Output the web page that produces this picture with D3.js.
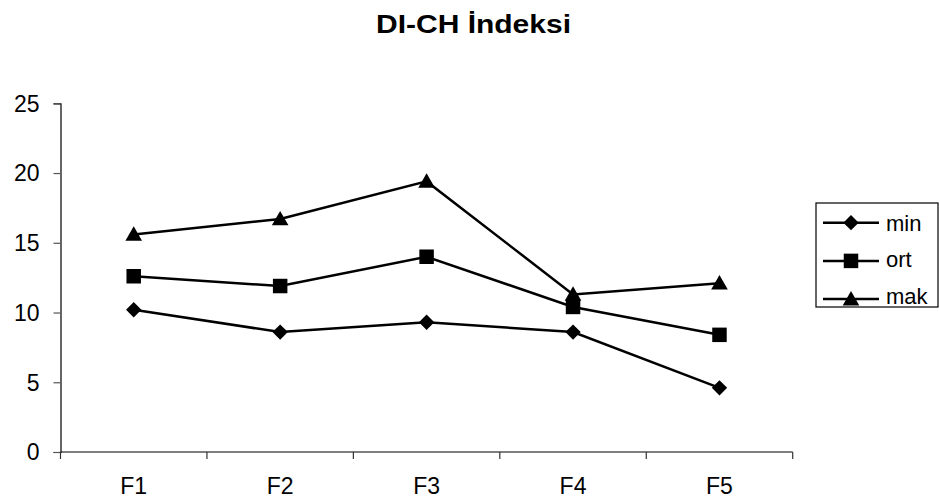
<!DOCTYPE html>
<html>
<head>
<meta charset="utf-8">
<script src="https://cdn.jsdelivr.net/npm/d3@7"></script>
<style>
body { margin: 0; background: #fff; }
text { font-family: "Liberation Sans", Arial, sans-serif; fill: #000; }
</style>
</head>
<body>
<div id="chart"></div>
<script>
// data
var categories = ["F1", "F2", "F3", "F4", "F5"];
var seriesNames = ["min", "ort", "mak"];
var minValues = [10.2, 8.6, 9.3, 8.6, 4.6];
var ortValues = [12.6, 11.9, 14.0, 10.4, 8.4];
var makValues = [15.6, 16.7, 19.4, 11.3, 12.1];
var yTicks = [0, 5, 10, 15, 20, 25];

var series = [
	{name: seriesNames[0], values: minValues, shape: d3.symbolDiamond2},
	{name: seriesNames[1], values: ortValues, shape: d3.symbolSquare},
	{name: seriesNames[2], values: makValues, shape: d3.symbolTriangle}
];

var width = 940, height = 503;
// plot edges (window.top is taken, so use other names)
var plotLeft = 60.5, plotRight = 792.7, plotTop = 103.3, plotBottom = 452;

var svg = d3.select("#chart").append("svg").attr("width", width).attr("height", height);

var x = d3.scaleBand().domain(categories).range([plotLeft, plotRight]).padding(0);
var y = d3.scaleLinear().domain([0, 25]).range([plotBottom, plotTop]);

function symSize(shape) {
	if (shape === d3.symbolTriangle) return 120;
	if (shape === d3.symbolSquare) return 210;
	return 150;
}

// title
svg.append("text")
	.attr("x", 473.5).attr("y", 32.5)
	.attr("text-anchor", "middle")
	.attr("font-weight", "bold")
	.attr("font-size", 25)
	.attr("textLength", 195)
	.attr("lengthAdjust", "spacingAndGlyphs")
	.text("DI-CH İndeksi");

// y axis
var yAxis = svg.append("g")
	.attr("transform", "translate(" + plotLeft + ",0)")
	.call(d3.axisLeft(y).tickValues(yTicks).tickSize(7).tickPadding(14));
yAxis.select(".domain").attr("stroke", "#000").attr("stroke-width", 1.2);
yAxis.selectAll(".tick line").attr("stroke", "#555").attr("stroke-width", 1.2);
yAxis.selectAll(".tick text")
	.attr("font-size", 23)
	.attr("dy", "0.34em")
	.attr("font-family", "Liberation Sans, Arial, sans-serif")
	.attr("fill", "#000");

// x axis: line, ticks at category edges, labels in the middle
var xAxis = svg.append("g").attr("transform", "translate(0," + plotBottom + ")");
xAxis.append("line").attr("x1", plotLeft).attr("x2", plotRight).attr("stroke", "#000").attr("stroke-width", 1.2);
var edges = categories.map(function(c){ return x(c); }).concat([plotRight]);
xAxis.selectAll(".edge").data(edges).enter().append("line")
	.attr("x1", function(d){ return d; }).attr("x2", function(d){ return d; })
	.attr("y1", 0).attr("y2", 7)
	.attr("stroke", "#333").attr("stroke-width", 1.2);
xAxis.selectAll(".lab").data(categories).enter().append("text")
	.attr("x", function(d){ return x(d) + x.bandwidth() / 2; })
	.attr("y", 42)
	.attr("text-anchor", "middle")
	.attr("font-size", 23)
	.text(function(d){ return d; });

// lines and markers
var line = d3.line()
	.x(function(d, i){ return x(categories[i]) + x.bandwidth() / 2; })
	.y(function(d){ return y(d); });

series.forEach(function(s){
	svg.append("path")
		.datum(s.values)
		.attr("d", line)
		.attr("fill", "none")
		.attr("stroke", "#000")
		.attr("stroke-width", 2.5);
	svg.selectAll(".m-" + s.name).data(s.values).enter().append("path")
		.attr("d", d3.symbol().type(s.shape).size(symSize(s.shape)))
		.attr("transform", function(d, i){
			var cx = x(categories[i]) + x.bandwidth() / 2;
			var cy = y(d) + (s.shape === d3.symbolTriangle ? 1.5 : 0);
			return "translate(" + cx + "," + cy + ")";
		})
		.attr("fill", "#000");
});

// legend
var legend = svg.append("g");
legend.append("rect")
	.attr("x", 816).attr("y", 203).attr("width", 122).attr("height", 104)
	.attr("fill", "#fff").attr("stroke", "#000").attr("stroke-width", 1.2);
var rows = legend.selectAll(".row").data(series).enter().append("g");
rows.append("line")
	.attr("x1", 823).attr("x2", 879)
	.attr("y1", function(d, i){ return 222.7 + i * 38.2; })
	.attr("y2", function(d, i){ return 222.7 + i * 38.2; })
	.attr("stroke", "#000").attr("stroke-width", 2.5);
rows.append("path")
	.attr("d", function(d){ return d3.symbol().type(d.shape).size(symSize(d.shape))(); })
	.attr("transform", function(d, i){
		return "translate(851," + (222.7 + i * 38.2 + (d.shape === d3.symbolTriangle ? 1.5 : 0)) + ")";
	})
	.attr("fill", "#000");
rows.append("text")
	.attr("x", 886)
	.attr("y", function(d, i){ return 230.5 + i * 36.5; })
	.attr("font-size", 22)
	.text(function(d){ return d.name; });
</script>
</body>
</html>
